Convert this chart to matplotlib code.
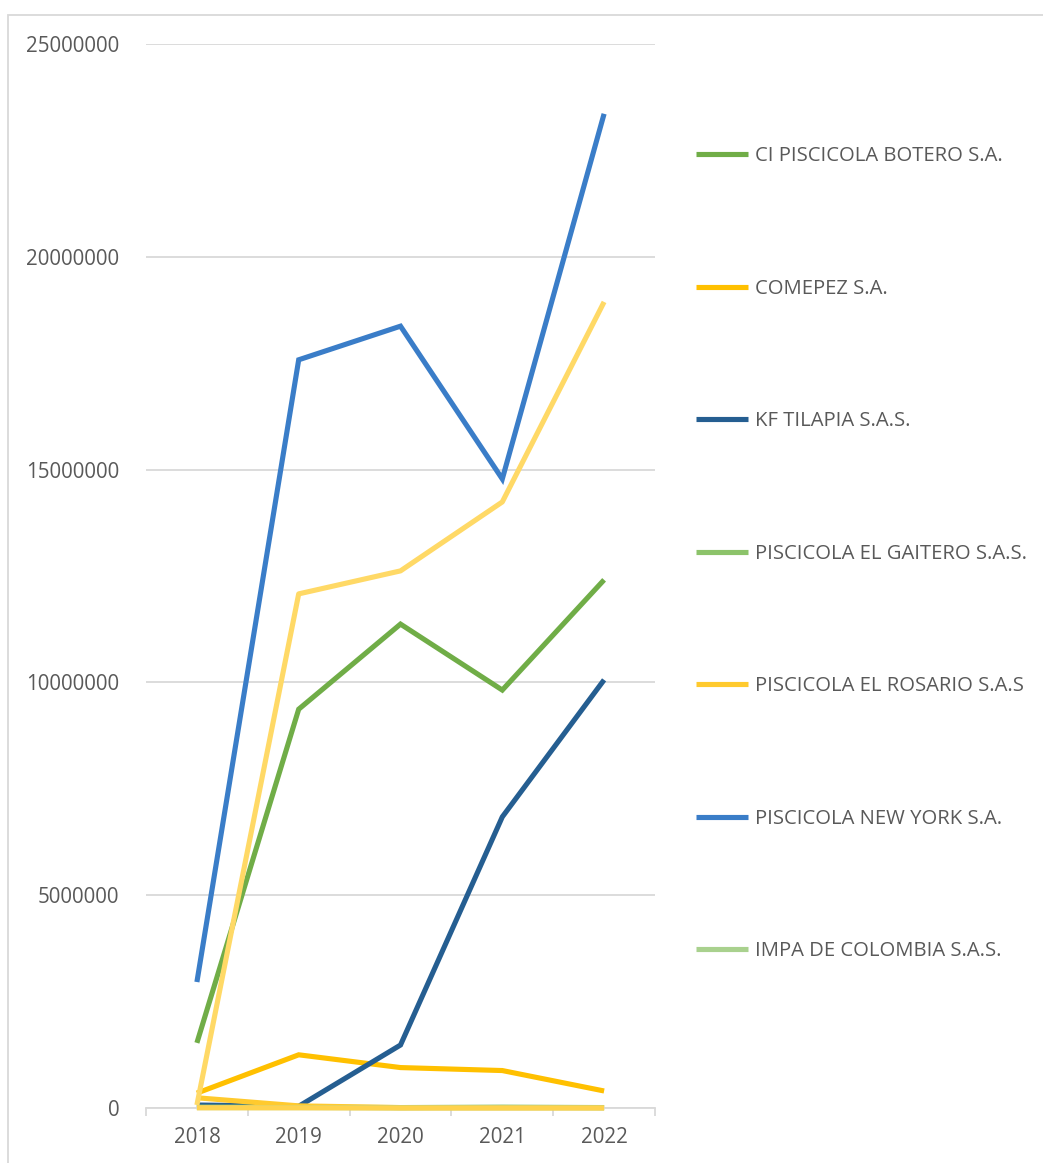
import matplotlib
matplotlib.use("Agg")
import matplotlib.pyplot as plt
from matplotlib.patches import Rectangle

years = ["2018", "2019", "2020", "2021", "2022"]

names = ["CI PISCICOLA BOTERO S.A.", "COMEPEZ S.A.", "KF TILAPIA S.A.S.",
         "PISCICOLA EL GAITERO S.A.S.", "PISCICOLA EL ROSARIO S.A.S",
         "PISCICOLA NEW YORK S.A.", "IMPA DE COLOMBIA S.A.S."]

botero = [1530000, 9370000, 11370000, 9820000, 12410000]
comepez = [350000, 1250000, 950000, 880000, 400000]
kf_tilapia = [70000, 40000, 1480000, 6840000, 10060000]
gaitero = [20000, 20000, 10000, 20000, 10000]
rosario = [240000, 50000, 10000, 10000, 10000]
new_york = [2960000, 17580000, 18370000, 14780000, 23360000]
impa = [10000, 10000, 5000, 5000, 5000]
# series beyond the legend's visible entries
serie_8 = [70000, 12080000, 12620000, 14240000, 18940000]
serie_9 = [5000, 5000, 0, 0, 0]

colors = ["#70AD47", "#FFC000", "#255E91", "#8CC36A", "#FFCA2E", "#3A7DC8", "#A9D18E"]
extra_color = "#FFD966"

W, H = 1043, 1163
fig = plt.figure(figsize=(W / 100, H / 100), dpi=100)
plt.rcParams['font.family'] = ['Open Sans', 'DejaVu Sans']

fig.add_artist(Rectangle((8 / W, -0.1), 1.2, 1 - 15 / H + 0.1, transform=fig.transFigure,
                         fill=False, edgecolor="#D9D9D9", linewidth=1.3))

ax = fig.add_axes([146 / W, 1 - 1108 / H, (655 - 146) / W, (1108 - 44) / H])
x = list(range(len(years)))

series = [botero, comepez, kf_tilapia, gaitero, rosario, new_york, impa]
lw = 3.7
handles = []
for s, c, n in zip(series, colors, names):
    h, = ax.plot(x, s, color=c, lw=lw, label=n, solid_capstyle="butt",
                 solid_joinstyle="miter", clip_on=False)
    handles.append(h)
ax.plot(x, serie_8, color=extra_color, lw=lw, label="_nolegend_", solid_capstyle="butt",
        clip_on=False)
ax.plot(x, serie_9, color="#FFD24D", lw=lw, label="_nolegend_", solid_capstyle="butt",
        zorder=3, clip_on=False)

ax.set_xlim(-0.5, len(years) - 0.5)
ax.set_ylim(0, 25000000)
ax.set_yticks([0, 5000000, 10000000, 15000000, 20000000, 25000000])
ax.set_yticklabels(["0", "5000000", "10000000", "15000000", "20000000", "25000000"])
ax.set_xticks(x)
ax.set_xticklabels(years)
ax.set_xticks([i - 0.5 for i in range(len(years) + 1)], minor=True)

ax.grid(axis="y", color="#D9D9D9", lw=1.3)
ax.set_axisbelow(True)
for sp in ["top", "right", "left"]:
    ax.spines[sp].set_visible(False)
ax.spines["bottom"].set_color("#D9D9D9")
ax.spines["bottom"].set_linewidth(1.3)
ax.tick_params(axis="y", length=0, pad=19, labelsize=14.8, labelcolor="#595959")
ax.tick_params(axis="x", which="major", length=0, pad=14, labelsize=14.8, labelcolor="#595959")
ax.tick_params(axis="x", which="minor", length=6, width=1.3, color="#D9D9D9")

leg = fig.legend(handles=handles, loc="upper left", bbox_to_anchor=(678 / W, 1 - 128 / H),
                 frameon=False, fontsize=14.6, handlelength=2.55, handletextpad=0.35,
                 labelspacing=5.55, labelcolor="#595959")

fig.savefig("out.png", dpi=100, facecolor="white")
